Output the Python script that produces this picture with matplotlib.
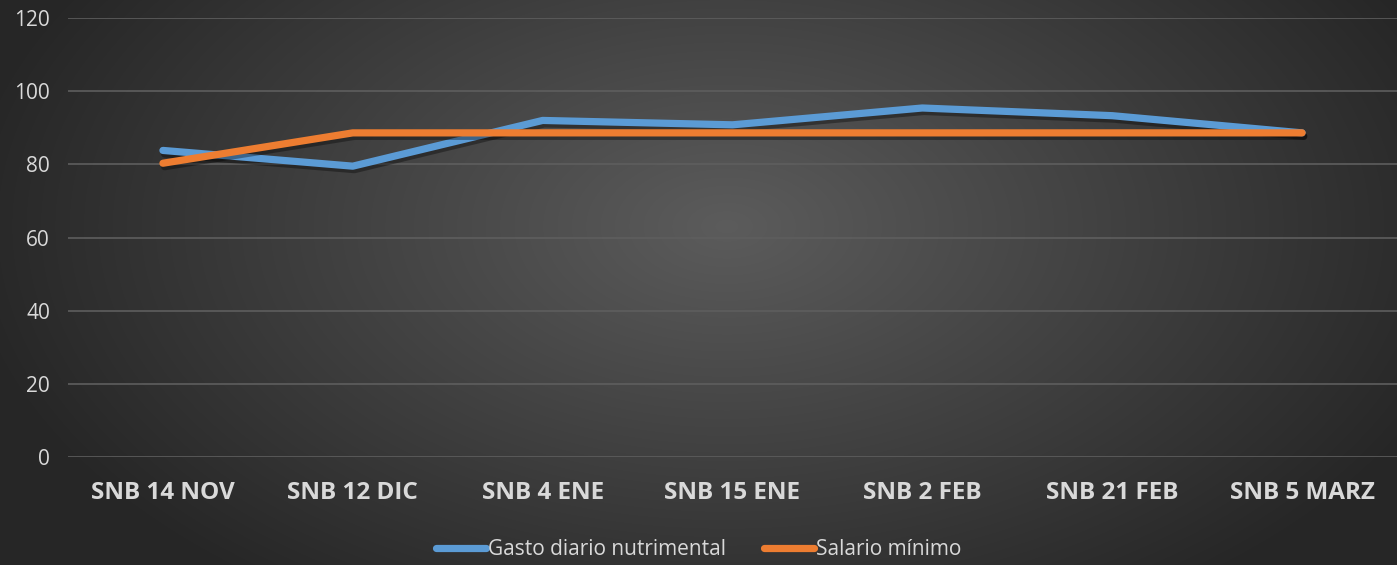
import numpy as np
import matplotlib.pyplot as plt
import matplotlib.patheffects as pe
from matplotlib.lines import Line2D

fechas = ["SNB 14 NOV", "SNB 12 DIC", "SNB 4 ENE", "SNB 15 ENE", "SNB 2 FEB", "SNB 21 FEB", "SNB 5 MARZ"]
gasto = [83.8, 79.5, 92.0, 90.8, 95.4, 93.3, 88.6]
salario = [80.3, 88.6, 88.6, 88.6, 88.6, 88.6, 88.6]

plt.rcParams["font.family"] = ["Open Sans", "DejaVu Sans"]

W, H = 1397, 565
fig = plt.figure(figsize=(W / 100, H / 100), dpi=100)

# fondo con degradado radial
bg = fig.add_axes([0, 0, 1, 1], zorder=-10)
yy, xx = np.mgrid[0:H, 0:W]
r = np.sqrt(((xx - W * 0.52) / (W * 0.55)) ** 2 + ((yy - H * 0.4) / (H * 0.8)) ** 2)
r = np.clip(r, 0, 1)
c = 0.36 - (0.36 - 0.15) * r
bg.imshow(np.dstack([c, c, c]), aspect="auto", extent=[0, 1, 0, 1])
bg.axis("off")

ax = fig.add_axes([68 / W, 1 - 457 / H, 1 - 68 / W, (457 - 18) / H])
ax.patch.set_alpha(0)
x = np.arange(len(fechas))

sombra = [pe.SimpleLineShadow(offset=(1.2, -2.5), shadow_color="black", alpha=0.35), pe.Normal()]
ax.plot(x, gasto, color="#5b9bd5", linewidth=5.2, solid_capstyle="round",
        path_effects=sombra, zorder=3)
ax.plot(x, salario, color="#ed7d31", linewidth=5.2, solid_capstyle="round",
        path_effects=sombra, zorder=4)

ax.set_xlim(-0.5, len(fechas) - 0.5)
ax.set_ylim(0, 120)
ax.set_yticks(range(0, 121, 20))
ax.set_xticks(x)
ax.set_xticklabels(fechas, fontsize=17.5, fontweight="bold", color="#d9d9d9")
ax.tick_params(axis="y", labelsize=15, labelcolor="#d9d9d9", length=0, pad=13)
ax.tick_params(axis="x", length=0, pad=17)
ax.grid(axis="y", color="#5e5e5e", linewidth=1.2)
for s in ax.spines.values():
    s.set_visible(False)

handles = [Line2D([], [], color="#5b9bd5", linewidth=5.2, solid_capstyle="round"),
           Line2D([], [], color="#ed7d31", linewidth=5.2, solid_capstyle="round")]
leg = fig.legend(handles, ["Gasto diario nutrimental", "Salario mínimo"],
                 loc="lower center", bbox_to_anchor=(0.5, -0.024), ncol=2, frameon=False,
                 fontsize=15, handlelength=2.4, handletextpad=0.1, columnspacing=1.8)
for t in leg.get_texts():
    t.set_color("#d9d9d9")

fig.savefig("out.png", dpi=100)
